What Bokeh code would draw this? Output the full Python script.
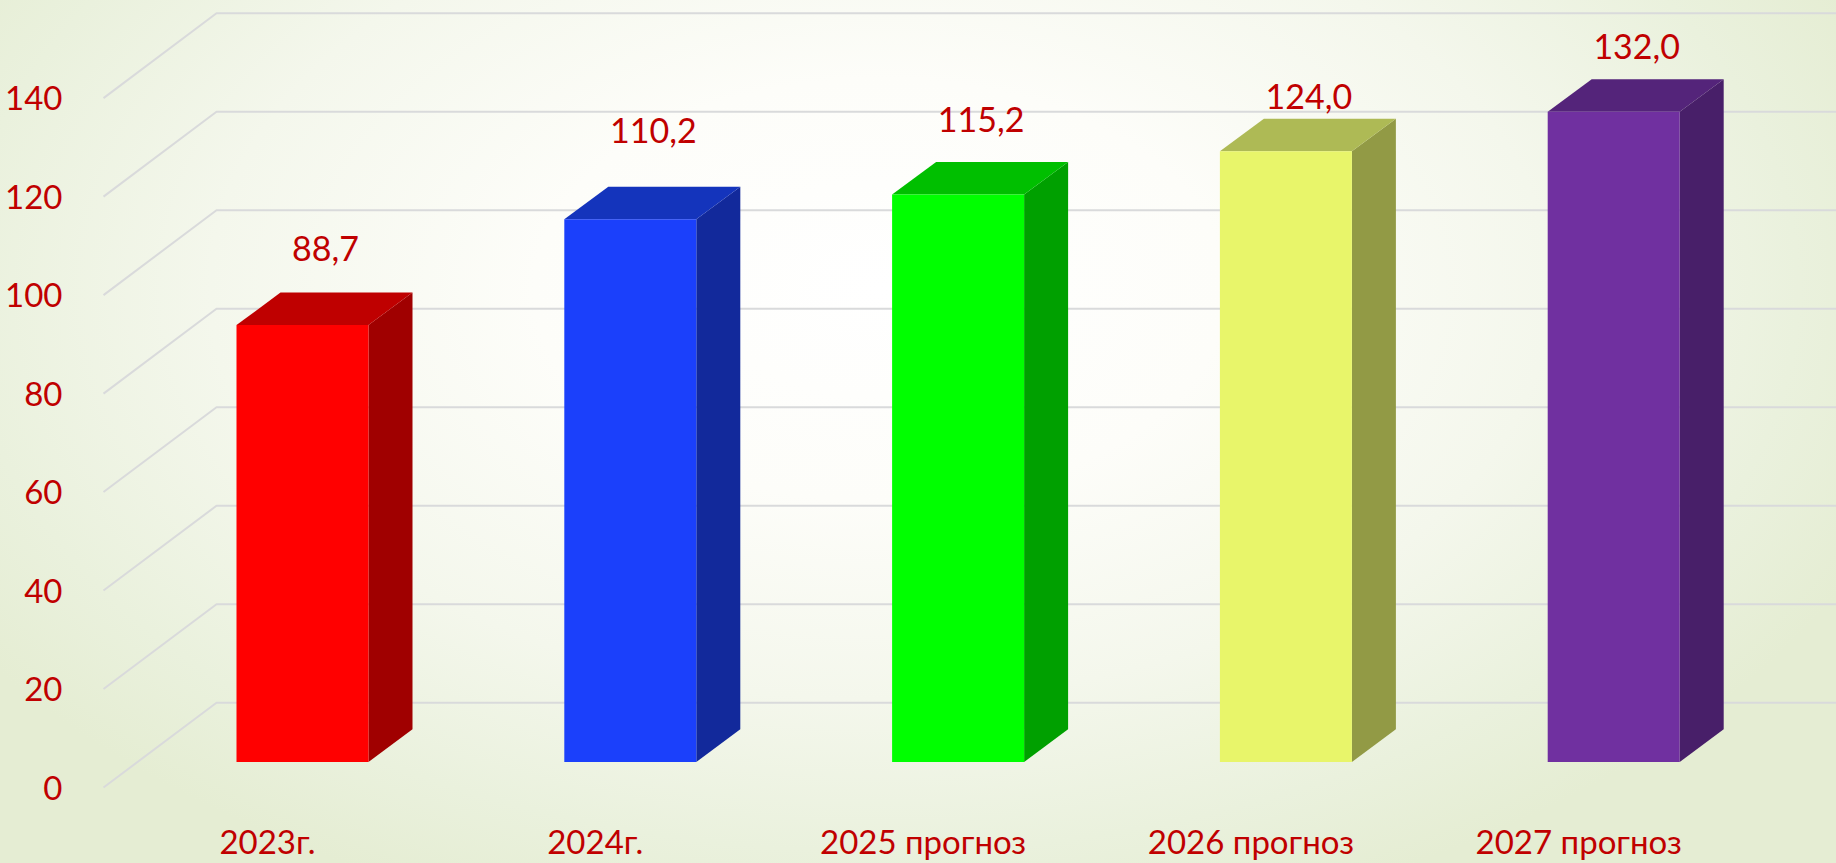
from bokeh.plotting import figure
from bokeh.embed import file_html
from bokeh.resources import INLINE
from bokeh.core.properties import value
from bokeh.models import (Range1d, LinearAxis, FixedTicker, Arrow, ColumnDataSource,
                          GlobalInlineStyleSheet)

# ---- data ----
categories = ["2023г.", "2024г.", "2025 прогноз", "2026 прогноз", "2027 прогноз"]
values = [88.7, 110.2, 115.2, 124.0, 132.0]
value_labels = ["88,7", "110,2", "115,2", "124,0", "132,0"]
y_ticks = [0, 20, 40, 60, 80, 100, 120, 140]

# ---- styles ----
front_colors = ["#FF0000", "#1B40FB", "#00FF00", "#E8F56A", "#7030A0"]
top_colors = ["#BF0000", "#1434BC", "#00BF00", "#AEBA55", "#54247A"]
side_colors = ["#A00000", "#12299B", "#00A000", "#929A45", "#481F69"]
TEXT = "#C00000"
GRID = "#D9DADB"
FONT = "Lato"

# ---- layout (page pixels) ----
W, H = 1836, 863
FRAME_L, FRAME_R, FRAME_T, FRAME_B = 72, W, 0, 800
X0, STEP = 302.0, 327.8       # page x of the first bar's centre, category spacing
K = 4.993                     # pixels per value unit
BASE = 772.0                  # page y of value 0 on the bars' front face
BAR_W = 132 / STEP
DX, DY = 44 / STEP, 33 / K    # oblique depth of a bar
WALL_FRONT_X, WALL_BACK_X = (103 - X0) / STEP, (216 - X0) / STEP
WALL_FRONT_DY, WALL_BACK_DY = (772 - 798) / K, (772 - 712) / K
label_lift = [78, 90, 76, 56, 66]   # hand placed data labels, pixels above the bar's top
label_dx = 23 / STEP
TICK_SHIFT = -35 / STEP       # category labels sit left of the bars

xr = Range1d((FRAME_L - X0) / STEP, (FRAME_R - X0) / STEP)
yr = Range1d((BASE - FRAME_B) / K, (BASE - FRAME_T) / K)

p = figure(width=W, height=H, x_range=xr, y_range=yr, output_backend="svg",
           toolbar_location=None, x_axis_type=None, y_axis_type=None,
           background_fill_color=None, border_fill_color=None, outline_line_color=None,
           min_border_left=FRAME_L, min_border_right=0,
           min_border_top=FRAME_T, min_border_bottom=H - FRAME_B)
p.grid.visible = False

# grid on the back wall and the side wall
for t in y_ticks:
    p.line([WALL_FRONT_X, WALL_BACK_X, xr.end],
           [t + WALL_FRONT_DY, t + WALL_BACK_DY, t + WALL_BACK_DY],
           line_color=GRID, line_width=2)

# bars
n = range(len(values))
left = [i - BAR_W / 2 for i in n]
right = [i + BAR_W / 2 for i in n]
p.patches([[right[i], right[i] + DX, right[i] + DX, right[i]] for i in n],
          [[0, DY, values[i] + DY, values[i]] for i in n],
          fill_color=side_colors, line_color=None)
p.patches([[left[i], left[i] + DX, right[i] + DX, right[i]] for i in n],
          [[values[i], values[i] + DY, values[i] + DY, values[i]] for i in n],
          fill_color=top_colors, line_color=None)
p.quad(left=left, right=right, bottom=0, top=values, fill_color=front_colors, line_color=None)

# data labels
src = ColumnDataSource(dict(x=[i + label_dx for i in n],
                            y=[values[i] + label_lift[i] / K for i in n],
                            t=value_labels))
p.text("x", "y", text="t", source=src, text_color=TEXT, text_font=value(FONT),
       text_font_size="34px", text_align="center", text_baseline="middle")

# axes
p.extra_y_ranges["wall"] = Range1d(yr.start - WALL_FRONT_DY, yr.end - WALL_FRONT_DY)
ya = LinearAxis(y_range_name="wall", ticker=FixedTicker(ticks=y_ticks))
ya.axis_line_color = None
ya.major_tick_line_color = None
ya.minor_tick_line_color = None
ya.major_label_standoff = 4
ya.major_label_text_color = TEXT
ya.major_label_text_font = FONT
ya.major_label_text_font_size = "33px"
p.add_layout(ya, "left")

p.extra_x_ranges["cat"] = Range1d(xr.start - TICK_SHIFT, xr.end - TICK_SHIFT)
xa = LinearAxis(x_range_name="cat", ticker=FixedTicker(ticks=list(n)),
                major_label_overrides={i: categories[i] for i in n})
xa.axis_line_color = None
xa.major_tick_line_color = None
xa.minor_tick_line_color = None
xa.major_label_standoff = 25
xa.major_label_text_color = TEXT
xa.major_label_text_font = FONT
xa.major_label_text_font_size = "33px"
p.add_layout(xa, "below")

# stray thin line at the upper left of the original slide
p.add_layout(Arrow(end=None, x_start=(0 - X0) / STEP, y_start=(BASE - 222) / K,
                   x_end=(33 - X0) / STEP, y_end=(BASE - 190) / K,
                   line_color="#7D7868", line_width=1))

# slide background behind the transparent plot
p.stylesheets = [GlobalInlineStyleSheet(css="""
html { background-color: #e8efd9;
   background-image: radial-gradient(ellipse 1080px 660px at 880px 290px,
   #ffffff 0%, #fdfdf9 32%, #f4f7ec 62%, #eaf1dd 85%, #e5edd3 100%);
   background-size: 1836px 863px; background-repeat: no-repeat; }
body { background: transparent; }
""")]

open("out.html", "w").write(file_html(p, INLINE))
